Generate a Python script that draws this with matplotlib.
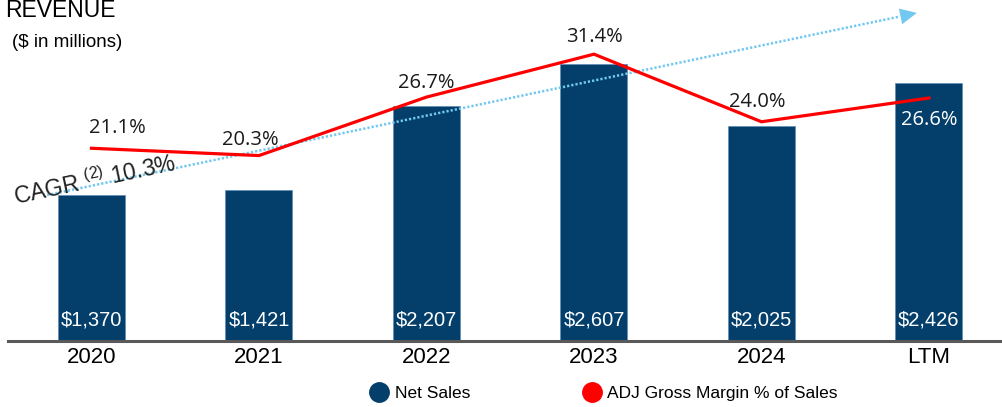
import matplotlib
matplotlib.use("Agg")
import matplotlib.pyplot as plt
from matplotlib.lines import Line2D

plt.rcParams['font.family'] = ['Liberation Sans', 'DejaVu Sans']
plt.rcParams['mathtext.fontset'] = 'custom'
plt.rcParams['mathtext.rm'] = 'Liberation Sans'
plt.rcParams['mathtext.it'] = 'Liberation Sans'

# data
periods = ['2020', '2021', '2022', '2023', '2024', 'LTM']
net_sales = [1370, 1421, 2207, 2607, 2025, 2426]
gross_margin = [21.1, 20.3, 26.7, 31.4, 24.0, 26.6]
cagr_text = r'CAGR $^{(2)}$ 10.3%'

bar_color = '#043f6b'
red = '#ff0000'
arrow_color = '#72c8ee'

fig = plt.figure(figsize=(10.02, 4.07), dpi=100)
# axes spans from the baseline (y=341px) up to the top of the figure
ax = fig.add_axes([0, 66 / 407, 1, 341 / 407])
x = list(range(len(periods)))

ax.bar(x, net_sales, width=0.4, color=bar_color, edgecolor='#5f8fb8', linewidth=0.5, zorder=2)
ax.set_xlim(-0.546, 5.436)
ax.set_ylim(0, 3209)
for s in ax.spines.values():
    s.set_visible(False)
ax.axhline(0, xmin=8 / 1002, xmax=1, color='#595959', lw=2.2, zorder=3, clip_on=False)
ax.set_yticks([])
ax.set_xticks(x)
ax.set_xticklabels(periods, fontsize=16, color='black')
ax.tick_params(axis='x', length=0, pad=4.5)

# white value labels near bar bottoms
for xi, v in zip(x, net_sales):
    ax.annotate(f'${v:,}', (xi, 0), xytext=(0, 11.5), textcoords='offset points',
                ha='center', va='baseline', color='white', fontsize=14.5, zorder=5)

# CAGR arrow: dotted shaft + solid head
start = (0.047, 0.428)
tip = (0.915, 0.962)
head_base = (tip[0] - 0.0172, tip[1] - 0.0106)
ax.plot([start[0], head_base[0]], [start[1], head_base[1]], transform=ax.transAxes,
        color=arrow_color, lw=1.8, ls=(0, (0.9, 0.8)), dash_capstyle='butt', zorder=3)
ax.annotate('', xy=tip, xytext=head_base, xycoords='axes fraction',
            arrowprops=dict(arrowstyle='-|>,head_length=1,head_width=0.48', color=arrow_color,
                            lw=0, shrinkA=0, shrinkB=0, mutation_scale=12), zorder=3)
fig.text(16 / 1002, 1 - 205 / 407, cagr_text, fontsize=16.5, color='#222222',
         rotation=12, rotation_mode='anchor', ha='left', va='baseline')

# margin line on secondary axis
ax2 = ax.twinx()
ax2.set_ylim(0, 37.33)
ax2.set_yticks([])
for s in ax2.spines.values():
    s.set_visible(False)
ax2.plot(x, gross_margin, color=red, lw=2.3, zorder=4, solid_joinstyle='miter')

label_offsets = [(19, 10.8), (-6.5, 7.9), (0, 6.5), (0, 8.6), (-3, 10.8), (0, -19.4)]
for i, (xi, v) in enumerate(zip(x, gross_margin)):
    col = 'white' if periods[i] == 'LTM' else '#1a1a1a'
    ax2.annotate(f'{v:.1f}%', (xi, v), xytext=label_offsets[i], textcoords='offset points',
                 ha='center', va='baseline', fontsize=14.5, color=col,
                 family=['Open Sans', 'DejaVu Sans'], zorder=6)

# titles
fig.text(5 / 1002, 1 - 17 / 407, 'REVENUE', fontsize=16.5, color='black', va='baseline')
fig.text(12 / 1002, 1 - 47 / 407, '($ in millions)', fontsize=13.5, color='black', va='baseline')

# legend
handles = [Line2D([], [], marker='o', ls='', color=bar_color, markersize=14),
           Line2D([], [], marker='o', ls='', color=red, markersize=14)]
fig.legend(handles, ['Net Sales', 'ADJ Gross Margin % of Sales'], loc='center',
           bbox_to_anchor=(604 / 1002, 1 - 393 / 407), ncol=2, frameon=False,
           fontsize=12.5, handlelength=1.0, handletextpad=0.4, columnspacing=6.5,
           borderpad=0, borderaxespad=0)

fig.savefig('out.png', dpi=100)
